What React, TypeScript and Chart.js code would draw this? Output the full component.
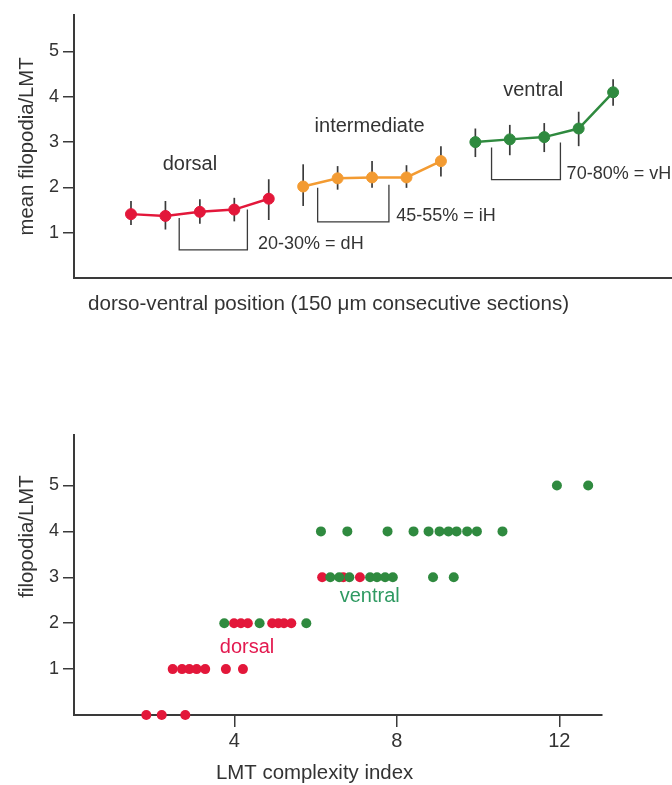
import { useEffect, useRef } from 'react';
import { Chart, registerables } from 'chart.js';

Chart.register(...registerables);

const FONT = '"Liberation Sans", Arial, Helvetica, sans-serif';
const AXIS_COLOR = '#3a3a3a';
const TEXT_COLOR = '#333333';
const RED = '#e3173a';
const ORANGE = '#f39b32';
const GREEN = '#2f8a3f';

// ---------- top chart data ----------
const dorsalPos = [1, 2, 3, 4, 5];
const dorsalMean = [1.41, 1.37, 1.46, 1.51, 1.75];
const dorsalLow = [1.17, 1.07, 1.2, 1.25, 1.28];
const dorsalHigh = [1.7, 1.7, 1.74, 1.77, 2.18];

const interPos = [6, 7, 8, 9, 10];
const interMean = [2.02, 2.2, 2.22, 2.22, 2.58];
const interLow = [1.59, 1.95, 1.99, 1.99, 2.24];
const interHigh = [2.51, 2.47, 2.58, 2.49, 2.91];

const ventralPos = [11, 12, 13, 14, 15];
const ventralMean = [3.0, 3.06, 3.11, 3.3, 4.1];
const ventralLow = [2.67, 2.71, 2.78, 2.91, 3.8];
const ventralHigh = [3.3, 3.38, 3.42, 3.67, 4.39];

const regionNames = ['dorsal', 'intermediate', 'ventral'];
const regionLabelX = [2.71, 7.93, 12.68];
const regionLabelY = [2.51, 3.34, 4.15];

const bracketText = ['20-30% = dH', '45-55% = iH', '70-80% = vH'];
const bracketLeftX = [2.4, 6.42, 11.47];
const bracketRightX = [4.38, 8.49, 13.47];
const bracketLeftTop = [1.325, 1.99, 2.88];
const bracketRightTop = [1.51, 2.06, 2.99];
const bracketBottom = [0.62, 1.24, 2.17];
const bracketLabelX = [4.69, 8.7, 13.65];
const bracketLabelY = [0.75, 1.36, 2.3];

const topYTicks = [1, 2, 3, 4, 5];

// ---------- bottom chart data ----------
const scatterDorsalX = [1.83, 2.21, 2.79, 2.48, 2.71, 2.89, 3.07, 3.28, 3.79, 4.21, 3.99, 4.16, 4.33, 4.93, 5.08, 5.22, 5.4, 6.16, 6.68, 7.09];
const scatterDorsalY = [0, 0, 0, 1, 1, 1, 1, 1, 1, 1, 2, 2, 2, 2, 2, 2, 2, 3, 3, 3];
const scatterVentralX = [3.75, 4.62, 5.77, 6.36, 6.58, 6.83, 7.34, 7.51, 7.71, 7.9, 8.89, 9.4, 6.13, 6.78, 7.77, 8.41, 8.78, 9.05, 9.27, 9.47, 9.73, 9.97, 10.6, 11.94, 12.71];
const scatterVentralY = [2, 2, 2, 3, 3, 3, 3, 3, 3, 3, 3, 3, 4, 4, 4, 4, 4, 4, 4, 4, 4, 4, 4, 5, 5];
const bottomXTicks = [4, 8, 12];
const bottomYTicks = [1, 2, 3, 4, 5];

const toPoints = (xs: number[], ys: number[]) => xs.map((x, i) => ({ x, y: ys[i] }));

const topGroups = [
  { pos: dorsalPos, low: dorsalLow, high: dorsalHigh },
  { pos: interPos, low: interLow, high: interHigh },
  { pos: ventralPos, low: ventralLow, high: ventralHigh },
];

const yAxisCommon = (ticks: number[]) => ({
  type: 'linear' as const,
  position: 'left' as const,
  afterFit: (s: any) => {
    s.width = 74;
  },
  afterBuildTicks: (s: any) => {
    s.ticks = ticks.map((v) => ({ value: v }));
  },
  grid: {
    display: true,
    drawOnChartArea: false,
    drawTicks: true,
    tickLength: 11,
    color: AXIS_COLOR,
    lineWidth: 1.5,
  },
  border: { display: true, color: AXIS_COLOR, width: 2 },
  ticks: {
    padding: 4,
    color: TEXT_COLOR,
    font: { family: FONT, size: 18 },
  },
});

const topPlugin = {
  id: 'topDecor',
  beforeDatasetsDraw(chart: any) {
    const { ctx, scales } = chart;
    const x = scales.x;
    const y = scales.y;
    ctx.save();
    ctx.strokeStyle = AXIS_COLOR;
    ctx.lineWidth = 1.7;
    topGroups.forEach((g) => {
      g.pos.forEach((p, i) => {
        const px = x.getPixelForValue(p);
        ctx.beginPath();
        ctx.moveTo(px, y.getPixelForValue(g.low[i]));
        ctx.lineTo(px, y.getPixelForValue(g.high[i]));
        ctx.stroke();
      });
    });
    ctx.lineWidth = 1.3;
    bracketLeftX.forEach((lx, i) => {
      const x1 = x.getPixelForValue(lx);
      const x2 = x.getPixelForValue(bracketRightX[i]);
      ctx.beginPath();
      ctx.moveTo(x1, y.getPixelForValue(bracketLeftTop[i]));
      ctx.lineTo(x1, y.getPixelForValue(bracketBottom[i]));
      ctx.lineTo(x2, y.getPixelForValue(bracketBottom[i]));
      ctx.lineTo(x2, y.getPixelForValue(bracketRightTop[i]));
      ctx.stroke();
    });
    ctx.restore();
  },
  afterDraw(chart: any) {
    const { ctx, scales, chartArea } = chart;
    const x = scales.x;
    const y = scales.y;
    ctx.save();
    ctx.fillStyle = TEXT_COLOR;
    ctx.textBaseline = 'middle';
    ctx.textAlign = 'center';
    ctx.font = `20px ${FONT}`;
    regionNames.forEach((t, i) => {
      ctx.fillText(t, x.getPixelForValue(regionLabelX[i]), y.getPixelForValue(regionLabelY[i]));
    });
    ctx.textAlign = 'left';
    ctx.font = `18px ${FONT}`;
    bracketText.forEach((t, i) => {
      ctx.fillText(t, x.getPixelForValue(bracketLabelX[i]), y.getPixelForValue(bracketLabelY[i]));
    });
    ctx.font = `20.6px ${FONT}`;
    ctx.textBaseline = 'alphabetic';
    ctx.fillText('dorso-ventral position (150 \u03bcm consecutive sections)', chartArea.left + 14, chartArea.bottom + 32);
    ctx.restore();
  },
};

const bottomPlugin = {
  id: 'bottomDecor',
  afterDraw(chart: any) {
    const { ctx, scales, chartArea } = chart;
    const x = scales.x;
    const y = scales.y;
    ctx.save();
    ctx.textBaseline = 'middle';
    ctx.textAlign = 'center';
    ctx.font = `20px ${FONT}`;
    ctx.fillStyle = '#e3194f';
    ctx.fillText('dorsal', x.getPixelForValue(4.31), y.getPixelForValue(1.48));
    ctx.fillStyle = '#2f9a62';
    ctx.fillText('ventral', x.getPixelForValue(7.33), y.getPixelForValue(2.59));
    ctx.fillStyle = TEXT_COLOR;
    ctx.textAlign = 'left';
    ctx.textBaseline = 'alphabetic';
    ctx.font = `20.4px ${FONT}`;
    ctx.fillText('LMT complexity index', chartArea.left + 142, chartArea.bottom + 64);
    ctx.translate(27, chartArea.top + 101.5);
    ctx.rotate(-Math.PI / 2);
    ctx.textAlign = 'center';
    ctx.textBaseline = 'middle';
    ctx.fillText('filopodia/LMT', 0, 0);
    ctx.restore();
  },
};

export default function App() {
  const topRef = useRef<HTMLCanvasElement>(null);
  const bottomRef = useRef<HTMLCanvasElement>(null);

  useEffect(() => {
    const top = new Chart(topRef.current as HTMLCanvasElement, {
      type: 'line',
      data: {
        datasets: [
          { data: toPoints(dorsalPos, dorsalMean), color: RED },
          { data: toPoints(interPos, interMean), color: ORANGE },
          { data: toPoints(ventralPos, ventralMean), color: GREEN },
        ].map((d) => ({
          data: d.data,
          borderColor: d.color,
          backgroundColor: d.color,
          pointBackgroundColor: d.color,
          pointBorderColor: d.color,
          pointRadius: 5.5,
          pointBorderWidth: 1,
          borderWidth: 2.5,
          tension: 0,
        })),
      },
      options: {
        animation: false,
        responsive: false,
        layout: { autoPadding: false, padding: { top: 10, right: 0, left: 0, bottom: 0 } },
        plugins: { legend: { display: false }, tooltip: { enabled: false } },
        scales: {
          x: {
            type: 'linear',
            min: -0.655,
            max: 16.71,
            afterFit: (s: any) => {
              s.height = 52;
            },
            grid: { display: false },
            ticks: { display: false },
            border: { display: true, color: AXIS_COLOR, width: 2 },
          },
          y: {
            ...yAxisCommon(topYTicks),
            min: 0,
            max: 5.81,
            title: {
              display: true,
              text: 'mean filopodia/LMT',
              color: TEXT_COLOR,
              font: { family: FONT, size: 20.3 },
              padding: { top: 15, bottom: 0 },
            },
          },
        },
      } as any,
      plugins: [topPlugin],
    });

    const bottom = new Chart(bottomRef.current as HTMLCanvasElement, {
      type: 'scatter',
      data: {
        datasets: [
          {
            data: toPoints(scatterVentralX, scatterVentralY),
            backgroundColor: GREEN,
            borderWidth: 0,
            pointRadius: 5,
            clip: false,
          },
          {
            data: toPoints(scatterDorsalX, scatterDorsalY),
            backgroundColor: RED,
            borderWidth: 0,
            pointRadius: 5,
            clip: false,
          },
        ],
      },
      options: {
        animation: false,
        responsive: false,
        layout: { autoPadding: false, padding: { top: 15, right: 70, left: 0, bottom: 0 } },
        plugins: { legend: { display: false }, tooltip: { enabled: false } },
        scales: {
          x: {
            type: 'linear',
            min: 0.05,
            max: 13.05,
            afterFit: (s: any) => {
              s.height = 70;
            },
            afterBuildTicks: (s: any) => {
              s.ticks = bottomXTicks.map((v) => ({ value: v }));
            },
            grid: {
              display: true,
              drawOnChartArea: false,
              drawTicks: true,
              tickLength: 12,
              color: AXIS_COLOR,
              lineWidth: 1.5,
            },
            border: { display: true, color: AXIS_COLOR, width: 2 },
            ticks: {
              padding: 2,
              color: TEXT_COLOR,
              font: { family: FONT, size: 20 },
              maxRotation: 0,
            },
          },
          y: {
            ...yAxisCommon(bottomYTicks),
            min: 0,
            max: 6.1,
          },
        },
      } as any,
      plugins: [bottomPlugin],
    });

    return () => {
      top.destroy();
      bottom.destroy();
    };
  }, []);

  return (
    <div style={{ position: 'absolute', left: 0, top: 0, width: 672, height: 785, background: '#fff' }}>
      <canvas ref={topRef} width={672} height={330} style={{ position: 'absolute', left: 0, top: 0 }} />
      <canvas ref={bottomRef} width={672} height={365} style={{ position: 'absolute', left: 0, top: 420 }} />
    </div>
  );
}
